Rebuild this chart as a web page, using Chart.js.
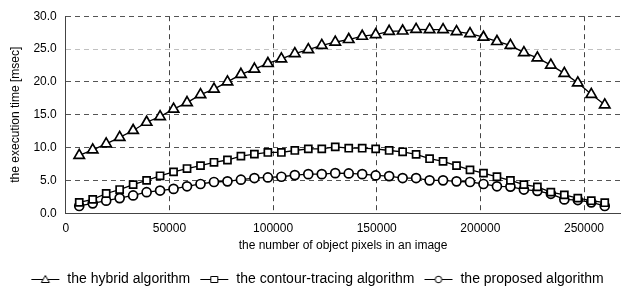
<!DOCTYPE html>
<html>
<head>
<meta charset="utf-8">
<script src="https://cdn.jsdelivr.net/npm/chart.js@4/dist/chart.umd.min.js"></script>
<style>
  html, body { margin: 0; padding: 0; background: #fff; }
  #wrap { width: 628px; height: 293px; }
</style>
</head>
<body>
<div id="wrap"><canvas id="chart"></canvas></div>
<script>
// object pixels per image (x values)
var pixelCounts = [];
for (var k = 1; k <= 40; k++) pixelCounts.push(k * 6500);

var hybridTimes = [
    8.8, 9.65, 10.55, 11.55, 12.6, 13.85, 14.7, 15.85, 16.85, 18.05,
    18.9, 20.0, 21.15, 21.95, 22.8, 23.5, 24.3, 24.9, 25.55, 26.05,
    26.45, 26.95, 27.2, 27.7, 27.75, 28.0, 27.95, 27.95, 27.65, 27.35,
    26.8, 26.15, 25.55, 24.45, 23.65, 22.55, 21.3, 19.85, 18.1, 16.5
];
var contourTimes = [
    1.65, 2.1, 3.0, 3.6, 4.35, 5.0, 5.7, 6.3, 6.8, 7.25,
    7.75, 8.1, 8.7, 9.0, 9.25, 9.25, 9.55, 9.8, 9.8, 10.1,
    9.9, 9.9, 9.8, 9.55, 9.35, 8.95, 8.3, 7.9, 7.25, 6.6,
    6.1, 5.55, 5.0, 4.35, 4.0, 3.2, 2.8, 2.3, 1.9, 1.6
];
var proposedTimes = [
    1.1, 1.5, 1.9, 2.3, 2.7, 3.2, 3.45, 3.7, 4.1, 4.45,
    4.75, 4.85, 5.1, 5.35, 5.45, 5.55, 5.8, 5.95, 5.95, 6.1,
    6.05, 5.95, 5.75, 5.65, 5.35, 5.35, 5.0, 5.0, 4.85, 4.75,
    4.45, 4.1, 4.05, 3.6, 3.4, 2.95, 2.1, 2.0, 1.65, 1.1
];

var seriesNames = ['the hybrid algorithm', 'the contour-tracing algorithm', 'the proposed algorithm'];
var seriesStyles = ['triangle', 'rect', 'circle'];
var seriesRadius = [6, 5, 4.5];

var xTicks = [0, 50000, 100000, 150000, 200000, 250000];
var yTicks = [0, 5, 10, 15, 20, 25, 30];

var FONT = 'Liberation Sans, Arial, sans-serif';

function toPoints(values) {
    var pts = [];
    for (var i = 0; i < values.length; i++) {
        pts.push({ x: pixelCounts[i], y: values[i] });
    }
    return pts;
}

// little "—marker—" icons for the legend
function legendIcon(style) {
    var c = document.createElement('canvas');
    c.width = 30;
    c.height = 12;
    var g = c.getContext('2d');
    g.strokeStyle = '#000';
    g.lineWidth = 1;
    g.beginPath();
    g.moveTo(1, 6.5);
    g.lineTo(29, 6.5);
    g.stroke();
    g.fillStyle = '#fff';
    g.beginPath();
    if (style === 'triangle') {
        g.moveTo(15, 2.5);
        g.lineTo(19, 9.5);
        g.lineTo(11, 9.5);
        g.closePath();
    } else if (style === 'rect') {
        g.rect(11.5, 3.5, 7, 6);
    } else {
        g.arc(15, 6.5, 3.3, 0, Math.PI * 2);
    }
    g.fill();
    g.stroke();
    return c;
}

var allSeries = [hybridTimes, contourTimes, proposedTimes];
var datasets = [];
for (var s = 0; s < allSeries.length; s++) {
    datasets.push({
        label: seriesNames[s],
        data: toPoints(allSeries[s]),
        borderColor: '#000',
        borderWidth: 1.3,
        pointStyle: seriesStyles[s],
        pointRadius: seriesRadius[s],
        pointBackgroundColor: '#fff',
        pointBorderColor: '#000',
        pointBorderWidth: 1.7,
        fill: false,
        tension: 0
    });
}

new Chart(document.getElementById('chart').getContext('2d'), {
    type: 'line',
    data: { datasets: datasets },
    options: {
        responsive: true,
        maintainAspectRatio: false,
        animation: false,
        layout: { padding: { top: 8, right: 2, left: 8, bottom: -3 } },
        plugins: {
            tooltip: { enabled: false },
            legend: {
                position: 'bottom',
                labels: {
                    color: '#000',
                    font: { family: FONT, size: 14 },
                    usePointStyle: true,
                    pointStyleWidth: 30,
                    padding: 9,
                    generateLabels: function (chart) {
                        return chart.data.datasets.map(function (ds, i) {
                            return {
                                text: ds.label,
                                pointStyle: legendIcon(seriesStyles[i]),
                                fillStyle: '#fff',
                                strokeStyle: '#000',
                                lineWidth: 0,
                                datasetIndex: i
                            };
                        });
                    }
                }
            }
        },
        scales: {
            x: {
                type: 'linear',
                min: 0,
                max: 267500,
                afterBuildTicks: function (scale) {
                    scale.ticks = xTicks.map(function (v) { return { value: v }; });
                },
                afterFit: function (scale) {
                    scale.paddingRight = 0;
                },
                ticks: {
                    color: '#000',
                    font: { family: FONT, size: 12 },
                    padding: 8,
                    maxRotation: 0,
                    callback: function (v) { return String(v); }
                },
                grid: {
                    color: '#444',
                    lineWidth: 1,
                    drawTicks: false
                },
                border: { display: true, color: '#444', dash: [5, 4] },
                title: {
                    display: true,
                    text: 'the number of object pixels in an image',
                    color: '#000',
                    font: { family: FONT, size: 12 },
                    padding: { top: -5, bottom: 10 }
                }
            },
            y: {
                min: 0,
                max: 30,
                afterBuildTicks: function (scale) {
                    scale.ticks = yTicks.map(function (v) { return { value: v }; });
                },
                ticks: {
                    color: '#000',
                    font: { family: FONT, size: 12 },
                    padding: 9,
                    callback: function (v) { return v.toFixed(1); }
                },
                grid: {
                    color: function (ctx) {
                        return ctx.tick && ctx.tick.value === 25 ? '#c0c0c0' : '#555';
                    },
                    lineWidth: 1,
                    drawTicks: false
                },
                border: { display: true, color: '#444', dash: [5, 4] },
                title: {
                    display: true,
                    text: 'the execution time [msec]',
                    color: '#000',
                    font: { family: FONT, size: 12 },
                    padding: { top: 0, bottom: 2 }
                }
            }
        }
    }
});
</script>
</body>
</html>
